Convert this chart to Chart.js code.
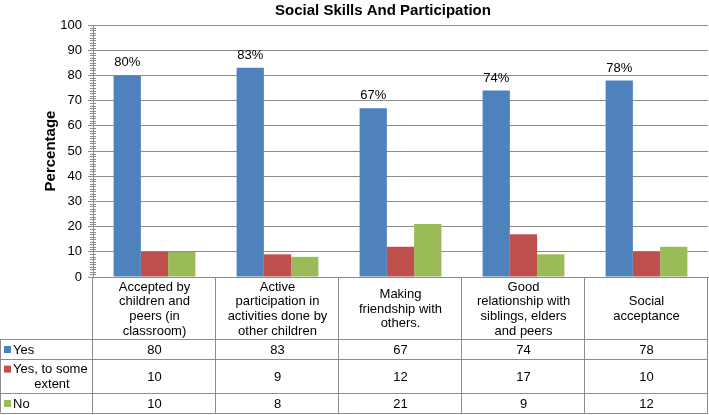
<!DOCTYPE html>
<html>
<head>
<meta charset="utf-8">
<script src="https://cdn.jsdelivr.net/npm/chart.js@4"></script>
<style>
  html,body{margin:0;padding:0;background:#fff;}
  #wrap{width:709px;height:415px;}
</style>
</head>
<body>
<div id="wrap"><canvas id="c" width="709" height="415"></canvas></div>
<script>
/* ---- data ---- */
const chartTitle = 'Social Skills And Participation';
const categories = [
  ['Accepted by','children and','peers (in','classroom)'],
  ['Active','participation in','activities done by','other children'],
  ['Making','friendship with','others.'],
  ['Good','relationship with','siblings, elders','and peers'],
  ['Social','acceptance']
];
const seriesNames = ['Yes', 'Yes, to some extent', 'No'];
const yesValues = [80, 83, 67, 74, 78];
const someValues = [10, 9, 12, 17, 10];
const noValues = [10, 8, 21, 9, 12];
const yTicks = [0,10,20,30,40,50,60,70,80,90,100];

const colors = ['#4F81BD', '#C0504D', '#9BBB59'];
const lineCol = '#8c8c8c';
const FONT = 'Arial, "Liberation Sans", sans-serif';

// row heights of the data table under the plot
const headerH = 62, rowH = [20, 34, 20];
const tableH = headerH + rowH.reduce((s,v)=>s+v,0);

const tablePlugin = {
  id:'tablePlugin',
  afterDraw(chart){
    const ctx = chart.ctx, a = chart.chartArea, y = chart.scales.y;
    const n = categories.length;
    const colW = (a.right - a.left) / n;
    const bounds = [];
    for(let i=0;i<=n;i++) bounds.push(a.left + i*colW);
    ctx.save();

    // title
    ctx.fillStyle = '#000';
    ctx.font = 'bold 15px ' + FONT;
    ctx.textAlign = 'center'; ctx.textBaseline = 'middle';
    ctx.fillText(chartTitle, 383, 11);

    // minor ticks on y axis
    ctx.strokeStyle = lineCol; ctx.lineWidth = 1;
    ctx.beginPath();
    for(let v=0; v<=100; v++){
      if(v%10===0) continue;
      const py = Math.round(y.getPixelForValue(v)) + 0.5;
      ctx.moveTo(a.left-3, py); ctx.lineTo(a.left+3, py);
    }
    ctx.stroke();

    // percent labels over "Yes" bars
    ctx.font = '13px ' + FONT;
    ctx.textAlign = 'center'; ctx.textBaseline = 'bottom';
    chart.getDatasetMeta(0).data.forEach((bar,i)=>{
      ctx.fillText(yesValues[i] + '%', bar.x, bar.y - 6);
    });

    // table grid
    const top = a.bottom;
    const rowTops = [top + headerH];
    rowH.forEach(h=>rowTops.push(rowTops[rowTops.length-1] + h));
    const bottom = rowTops[rowTops.length-1];
    ctx.beginPath();
    rowTops.forEach(ry=>{ const py = Math.round(ry)+0.5; ctx.moveTo(0.5, py); ctx.lineTo(a.right, py); });
    bounds.forEach(bx=>{ const px = Math.round(bx)-0.5; ctx.moveTo(px, top); ctx.lineTo(px, bottom); });
    ctx.moveTo(0.5, rowTops[0]); ctx.lineTo(0.5, bottom);
    ctx.stroke();

    // header labels
    ctx.fillStyle = '#000';
    ctx.font = '13px ' + FONT;
    ctx.textBaseline = 'middle'; ctx.textAlign = 'center';
    const lh = 14.7;
    categories.forEach((lines,i)=>{
      const cx = (bounds[i]+bounds[i+1])/2;
      const cy = top + headerH/2 + 1;
      lines.forEach((t,k)=>{
        ctx.fillText(t, cx, cy + (k - (lines.length-1)/2)*lh);
      });
    });

    // value rows
    const series = [yesValues, someValues, noValues];
    series.forEach((vals,r)=>{
      const cy = (rowTops[r]+rowTops[r+1])/2 + 1;
      vals.forEach((v,i)=>{
        ctx.fillText(String(v), (bounds[i]+bounds[i+1])/2, cy);
      });
      // legend cell
      ctx.fillStyle = colors[r];
      ctx.textAlign = 'left';
      if(r===1){
        ctx.fillRect(4, cy - lh/2 - 4, 7, 7);
        ctx.fillStyle = '#000';
        ctx.fillText('Yes, to some', 13, cy - lh/2);
        ctx.textAlign = 'center';
        ctx.fillText('extent', 52, cy + lh/2);
      } else {
        ctx.fillRect(4, cy - 4, 7, 7);
        ctx.fillStyle = '#000';
        ctx.fillText(seriesNames[r], 13, cy);
      }
      ctx.textAlign = 'center';
    });
    ctx.restore();
  }
};

new Chart(document.getElementById('c'), {
  type:'bar',
  data:{
    labels: categories,
    datasets:[
      {label:seriesNames[0], data:yesValues, backgroundColor:colors[0]},
      {label:seriesNames[1], data:someValues, backgroundColor:colors[1]},
      {label:seriesNames[2], data:noValues, backgroundColor:colors[2]}
    ]
  },
  options:{
    responsive:false, animation:false,
    layout:{padding:{top:25, right:1, left:0, bottom:2}},
    datasets:{bar:{categoryPercentage:0.665, barPercentage:1.0}},
    plugins:{legend:{display:false}, tooltip:{enabled:false}, title:{display:false}},
    scales:{
      x:{
        grid:{display:false},
        border:{color:lineCol},
        ticks:{display:false},
        afterFit(s){ s.height = tableH; }
      },
      y:{
        min:0, max:100,
        afterBuildTicks(s){ s.ticks = yTicks.map(v=>({value:v})); },
        grid:{color:lineCol, tickLength:5, tickColor:lineCol},
        border:{color:lineCol},
        ticks:{color:'#000', padding:6, font:{size:13, family:FONT}},
        title:{display:true, text:'Percentage', color:'#000', font:{size:15, weight:'bold', family:FONT}, padding:{top:42, bottom:0}},
        afterFit(s){ s.width = 93; }
      }
    }
  },
  plugins:[tablePlugin]
});
</script>
</body>
</html>
